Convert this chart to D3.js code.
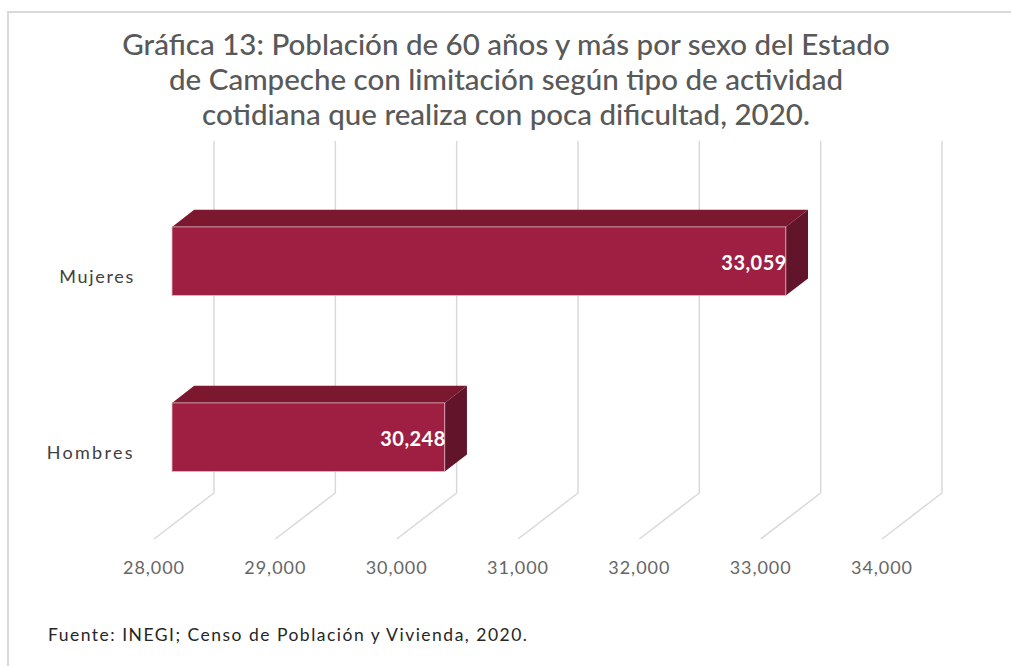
<!DOCTYPE html>
<html><head><meta charset="utf-8">
<script src="https://cdn.jsdelivr.net/npm/d3@7"></script>
<style>html,body{margin:0;padding:0;background:#fff;} svg{display:block;}</style>
</head><body>
<script>
const categories = ["Mujeres", "Hombres"];
const values = [33059, 30248];
const valueLabels = ["33,059", "30,248"];
const tickValues = [28000, 29000, 30000, 31000, 32000, 33000, 34000];
const titleLines = [
  "Gráfica 13: Población de 60 años y más por sexo del Estado",
  "de Campeche con limitación según tipo de actividad",
  "cotidiana que realiza con poca dificultad, 2020."
];
const source = "Fuente: INEGI; Censo de Población y Vivienda, 2020.";

const W = 1011, H = 666;
const svg = d3.select("body").append("svg").attr("width", W).attr("height", H);

// frame
svg.append("rect").attr("x", 8).attr("y", 12).attr("width", W + 10).attr("height", H + 10)
  .attr("fill", "#fff").attr("stroke", "#d9d9d9").attr("stroke-width", 2);

const font = "Lato, sans-serif";

// helper: adjust letter spacing so text reaches a target width
function fit(sel, target) {
  sel.each(function () {
    const n = this.getNumberOfChars();
    const w = this.getComputedTextLength();
    if (n > 1) d3.select(this).attr("letter-spacing", Math.max(0, (target - w) / (n - 1)));
  });
}

// title
const tl = svg.append("g").selectAll("text").data(titleLines).join("text")
  .attr("x", 506).attr("y", (d, i) => 55 + i * 35)
  .attr("text-anchor", "middle").attr("font-family", font)
  .attr("font-size", 24).attr("font-weight", 500).attr("fill", "#595959")
  .text(d => d);
const w0 = tl.node().getComputedTextLength();
tl.attr("font-size", 24 * 768 / w0);

// scales
const x = d3.scaleLinear().domain([28000, 34000]).range([214, 942]);
const y = d3.scaleBand().domain(categories).range([141, 493]).paddingInner(0.61).paddingOuter(0.305);
const D = [-60, 46];           // floor depth vector
const tF = 0.7, tB = 0.33;     // bar depth (front/back)
const fx = D[0] * tF, fy = D[1] * tF, bx = D[0] * tB, by = D[1] * tB;
const bw = y.bandwidth();

// gridlines (back wall + floor)
const grid = svg.append("g");
tickValues.forEach(t => {
  grid.append("path")
    .attr("d", d3.line()([[x(t), 141], [x(t), 493], [x(t) + D[0], 493 + D[1]]]))
    .attr("fill", "none").attr("stroke", "#d9d9d9").attr("stroke-width", 1.5);
});

// tick labels
const tk = svg.append("g").selectAll("text").data(tickValues).join("text")
  .attr("x", t => x(t) + D[0]).attr("y", 574)
  .attr("text-anchor", "middle").attr("font-family", font).attr("font-size", 18)
  .attr("fill", "#666").text(t => d3.format(",")(t));
fit(tk, 61);

// category labels
const cl = svg.append("g").selectAll("text").data(categories).join("text")
  .attr("x", 135).attr("y", c => y(c) + bw / 2 + D[1] + 8)
  .attr("text-anchor", "end").attr("font-family", font).attr("font-size", 18)
  .attr("fill", "#404040").text(c => c);
cl.each(function (c) { fit(d3.select(this), c === "Mujeres" ? 74 : 86); });

// bars
const bars = svg.append("g");
categories.forEach((c, i) => {
  const x0 = x(28000), x1 = x(values[i]);
  const y0 = y(c), y1 = y(c) + bw;
  bars.append("polygon")
    .attr("points", [[x0 + fx, y0 + fy], [x0 + bx, y0 + by], [x1 + bx, y0 + by], [x1 + fx, y0 + fy]].map(p => p.join(",")).join(" "))
    .attr("fill", "#7b1830");
  bars.append("polygon")
    .attr("points", [[x1 + fx, y0 + fy], [x1 + bx, y0 + by], [x1 + bx, y1 + by], [x1 + fx, y1 + fy]].map(p => p.join(",")).join(" "))
    .attr("fill", "#62142a");
  bars.append("rect")
    .attr("x", x0 + fx).attr("y", y0 + fy).attr("width", x1 - x0).attr("height", bw)
    .attr("fill", "#9e1f42").attr("stroke", "#e4b8c3").attr("stroke-width", 0.8);
  const vl = bars.append("text")
    .attr("x", x1 + fx + 1).attr("y", y0 + fy + bw / 2 + 9)
    .attr("text-anchor", "end").attr("font-family", font).attr("font-size", 20)
    .attr("font-weight", 700).attr("fill", "#fff").text(valueLabels[i]);
  fit(vl, 65);
});

// source
const src = svg.append("text").attr("x", 48).attr("y", 641)
  .attr("font-family", font).attr("font-size", 17.5).attr("fill", "#262626")
  .text(source);
fit(src, 479);
</script>
</body></html>
